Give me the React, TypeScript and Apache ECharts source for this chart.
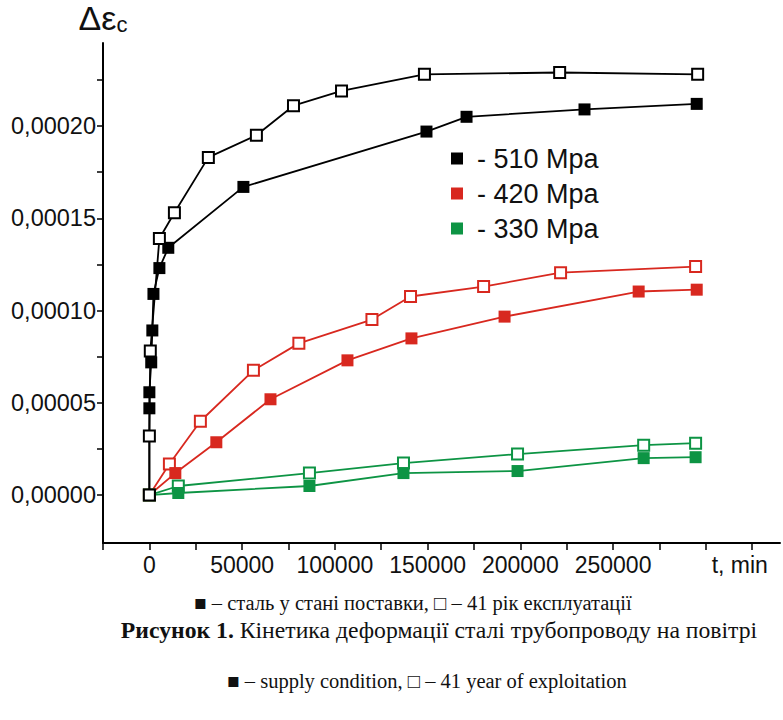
import React, { useEffect, useRef } from "react";
import * as echarts from "echarts";

// ---- data (t in minutes, Δε_c) ----
const black510Filled: [number, number][] = [
  [0, 0], [0, 0.000047], [0, 0.0000557], [1000, 0.0000719], [1600, 0.0000892],
  [2200, 0.000109], [5400, 0.000123], [10200, 0.000134], [50700, 0.000167],
  [149400, 0.000197], [171000, 0.000205], [234600, 0.000209], [295100, 0.000212],
];
const black510Open: [number, number][] = [
  [0, 0], [0, 0.000032], [500, 0.000078], [5400, 0.000139], [13500, 0.000153],
  [31800, 0.000183], [57700, 0.000195], [77700, 0.000211], [103600, 0.000219],
  [148300, 0.000228], [221200, 0.000229], [295600, 0.000228],
];
const red420Filled: [number, number][] = [
  [0, 0], [14000, 0.0000119], [36100, 0.0000286], [65300, 0.0000519], [106800, 0.000073],
  [141300, 0.0000849], [191500, 0.0000967], [263800, 0.0001103], [295100, 0.0001113],
];
const red420Open: [number, number][] = [
  [0, 0], [10800, 0.0000168], [27500, 0.00004], [56100, 0.0000676], [80600, 0.0000822],
  [120000, 0.0000951], [140800, 0.0001076], [180200, 0.000113], [221700, 0.0001205],
  [294500, 0.0001238],
];
const green330Filled: [number, number][] = [
  [0, 0], [15600, 0.0000011], [86300, 0.0000049], [137000, 0.0000119],
  [198500, 0.000013], [266500, 0.00002], [294500, 0.0000205],
];
const green330Open: [number, number][] = [
  [0, 0], [15600, 0.0000049], [86300, 0.0000119], [137000, 0.0000173],
  [198500, 0.0000222], [266500, 0.000027], [294500, 0.0000281],
];

const seriesNames = ["- 510 Mpa", "- 420 Mpa", "- 330 Mpa"];
const xTickValues = [-25000, 0, 25000, 50000, 75000, 100000, 125000, 150000, 175000, 200000, 225000, 250000, 275000, 300000, 325000];
const xLabelValues = [0, 50000, 100000, 150000, 200000, 250000, 300000];
const yTickValues = [0, 0.000025, 0.00005, 0.000075, 0.0001, 0.000125, 0.00015, 0.000175, 0.0002, 0.000225];
const yLabelValues = [0, 0.00005, 0.0001, 0.00015, 0.0002];

const captionUA = "■ – сталь у стані поставки, □ – 41 рік експлуатації";
const captionTitleBold = "Рисунок 1.";
const captionTitle = " Кінетика деформації сталі трубопроводу на повітрі";
const captionEN = "■ – supply condition, □ – 41 year of exploitation";

const BLACK = "#000000";
const RED = "#d8281f";
const GREEN = "#0d9444";
const SANS = "'Liberation Sans', Arial, sans-serif";
const SERIF = "'Liberation Serif', 'Times New Roman', serif";

function filled(name: string, data: [number, number][], color: string, z: number) {
  return {
    name, type: "line", data, symbol: "rect", symbolSize: 12, z,
    itemStyle: { color },
    lineStyle: { color, width: 1.8 },
  };
}
function open(name: string, data: [number, number][], color: string, z: number) {
  return {
    name, type: "line", data, symbol: "rect", symbolSize: 11, z,
    itemStyle: { color: "#ffffff", borderColor: color, borderWidth: 2 },
    lineStyle: { color, width: 1.8 },
  };
}

export default function App() {
  const ref = useRef<HTMLDivElement>(null);
  useEffect(() => {
    if (!ref.current) return;
    const chart = echarts.init(ref.current, undefined, { renderer: "svg" });
    chart.setOption({
      animation: false,
      backgroundColor: "#ffffff",
      grid: { left: 103, right: 3, top: 43, bottom: 177, containLabel: false, outerBoundsMode: "none" },
      legend: {
        data: seriesNames,
        orient: "vertical",
        left: 446,
        top: 140,
        icon: "rect",
        itemWidth: 12,
        itemHeight: 12,
        itemGap: 8,
        textStyle: { fontFamily: SANS, fontSize: 27, color: "#111", padding: [0, 0, 0, 9] },
      },
      xAxis: {
        type: "value",
        min: -25000,
        max: 340000,
        splitLine: { show: false },
        axisLine: { show: true, onZero: false, lineStyle: { color: "#000", width: 2 } },
        axisTick: { show: true, customValues: xTickValues, length: 7, lineStyle: { color: "#000", width: 1.5 } },
        axisLabel: {
          customValues: xLabelValues,
          margin: 10,
          fontFamily: SANS,
          fontSize: 23,
          color: "#111",
          formatter: (v: number) => (v === 300000 ? "{t|t, min}" : String(v)),
          rich: { t: { fontFamily: SANS, fontSize: 23, color: "#111", padding: [0, 0, 0, 68] } },
        },
      },
      yAxis: {
        type: "value",
        min: -0.000026,
        max: 0.000245,
        splitLine: { show: false },
        axisLine: { show: true, onZero: false, lineStyle: { color: "#000", width: 2 } },
        axisTick: { show: true, customValues: yTickValues, length: 6, lineStyle: { color: "#000", width: 1.5 } },
        axisLabel: {
          customValues: yLabelValues,
          margin: 7,
          fontFamily: SANS,
          fontSize: 23.5,
          color: "#111",
          formatter: (v: number) => v.toFixed(5).replace(".", ","),
        },
        name: "{a|Δε}{b|c}",
        nameLocation: "end",
        nameGap: 8,
        nameTextStyle: {
          rich: {
            a: { fontFamily: SANS, fontSize: 34, color: "#111" },
            b: { fontFamily: SANS, fontSize: 22, color: "#111", verticalAlign: "bottom", padding: [8, 0, 0, 0] },
          },
        },
      },
      series: [
        open("red-open", red420Open, RED, 2),
        filled(seriesNames[1], red420Filled, RED, 3),
        open("green-open", green330Open, GREEN, 2),
        filled(seriesNames[2], green330Filled, GREEN, 3),
        filled(seriesNames[0], black510Filled, BLACK, 4),
        open("black-open", black510Open, BLACK, 5),
      ],
      graphic: [
        {
          type: "text", x: 413, y: 603,
          style: { text: captionUA, fontFamily: SERIF, fontSize: 20.5, fill: "#111", align: "center", verticalAlign: "middle" },
        },
        {
          type: "text", x: 439, y: 630,
          style: {
            text: "{b|" + captionTitleBold + "}" + captionTitle,
            fontFamily: SERIF, fontSize: 23.7, fill: "#111", align: "center", verticalAlign: "middle",
            rich: { b: { fontFamily: SERIF, fontSize: 23.7, fontWeight: "bold", fill: "#111" } },
          },
        },
        {
          type: "text", x: 427, y: 681,
          style: { text: captionEN, fontFamily: SERIF, fontSize: 20.5, fill: "#111", align: "center", verticalAlign: "middle" },
        },
      ],
    });
    return () => chart.dispose();
  }, []);
  return (
    <div
      ref={ref}
      style={{ position: "fixed", left: 0, top: 0, width: 783, height: 720, background: "#fff" }}
    />
  );
}
